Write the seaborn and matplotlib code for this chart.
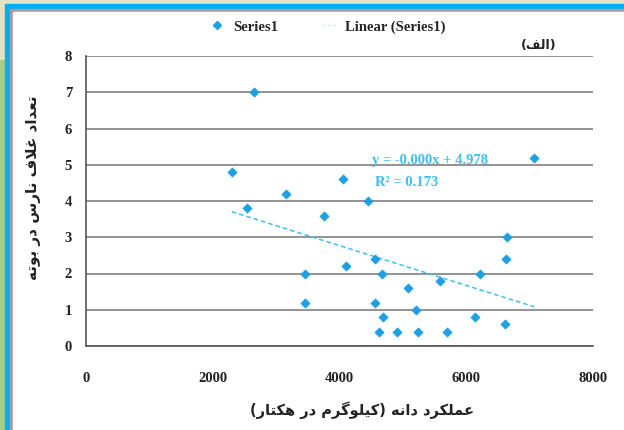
import numpy as np
import pandas as pd
import matplotlib
matplotlib.use("Agg")
import matplotlib.pyplot as plt
from matplotlib.lines import Line2D
from matplotlib.patches import Rectangle
import seaborn as sns

# data
grain_yield = [2300, 2540, 2650, 3150, 3450, 3460, 3750, 4050, 4100, 4450,
               4560, 4560, 4620, 4670, 4690, 4900, 5080, 5200, 5240, 5590,
               5700, 6140, 6220, 6610, 6630, 6640, 7070]
immature_pods = [4.8, 3.8, 7.0, 4.2, 2.0, 1.2, 3.6, 4.6, 2.2, 4.0,
                 2.4, 1.2, 0.4, 2.0, 0.8, 0.4, 1.6, 1.0, 0.4, 1.8,
                 0.4, 0.8, 2.0, 0.6, 2.4, 3.0, 5.2]
x_ticks = [0, 2000, 4000, 6000, 8000]
y_ticks = [0, 1, 2, 3, 4, 5, 6, 7, 8]
eq_text = "y = -0.000x + 4.978"
r2_text = "R² = 0.173"

df = pd.DataFrame({"yield": grain_yield, "pods": immature_pods})

# --- minimal Persian shaping (matplotlib has no complex text layout) ---
FORMS = {  # isolated, final, initial, medial
    "ا": ("\uFE8D", "\uFE8E", None, None),
    "ب": ("\uFE8F", "\uFE90", "\uFE91", "\uFE92"),
    "ت": ("\uFE95", "\uFE96", "\uFE97", "\uFE98"),
    "د": ("\uFEA9", "\uFEAA", None, None),
    "ر": ("\uFEAD", "\uFEAE", None, None),
    "س": ("\uFEB1", "\uFEB2", "\uFEB3", "\uFEB4"),
    "ع": ("\uFEC9", "\uFECA", "\uFECB", "\uFECC"),
    "غ": ("\uFECD", "\uFECE", "\uFECF", "\uFED0"),
    "ف": ("\uFED1", "\uFED2", "\uFED3", "\uFED4"),
    "ل": ("\uFEDD", "\uFEDE", "\uFEDF", "\uFEE0"),
    "م": ("\uFEE1", "\uFEE2", "\uFEE3", "\uFEE4"),
    "ن": ("\uFEE5", "\uFEE6", "\uFEE7", "\uFEE8"),
    "ه": ("\uFEE9", "\uFEEA", "\uFEEB", "\uFEEC"),
    "و": ("\uFEED", "\uFEEE", None, None),
    "ک": ("\uFB8E", "\uFB8F", "\uFB90", "\uFB91"),
    "گ": ("\uFB92", "\uFB93", "\uFB94", "\uFB95"),
    "ی": ("\uFBFC", "\uFBFD", "\uFBFE", "\uFBFF"),
}


def dual(c):
    return c in FORMS and FORMS[c][2] is not None


def shape(s):
    out = []
    i = 0
    while i < len(s):
        c = s[i]
        prev = s[i - 1] if i > 0 else ""
        nxt = s[i + 1] if i + 1 < len(s) else ""
        if c not in FORMS:
            out.append(c)
            i += 1
            continue
        jp = dual(prev)
        if c == "ل" and nxt == "ا":
            out.append("\uFEFC" if jp else "\uFEFB")
            i += 2
            continue
        jn = dual(c) and nxt in FORMS
        f = FORMS[c]
        if jp and jn:
            out.append(f[3])
        elif jp:
            out.append(f[1])
        elif jn:
            out.append(f[2])
        else:
            out.append(f[0])
        i += 1
    vis = "".join(reversed(out))
    return vis.translate(str.maketrans("()", ")("))


x_label = shape("عملکرد دانه (کیلوگرم در هکتار)")
y_label = shape("تعداد غلاف نارس در بوته")
panel_tag = shape("(الف)")

sns.set_style("white")
plt.rcParams["font.family"] = ["Liberation Serif", "DejaVu Sans"]
plt.rcParams["font.weight"] = "bold"

point_color = "#1e9fe3"
trend_color = "#3cc0f0"

fig = plt.figure(figsize=(6.24, 4.30), dpi=100)
# slide-like frame around the chart
fig.patches.append(Rectangle((0, 0), 1, 1, transform=fig.transFigure,
                             color="#e4e2c6", zorder=-5))
fig.patches.append(Rectangle((0, 0), 5 / 624, 1 - 60 / 430, transform=fig.transFigure,
                             color="#a6cc86", zorder=-4))
fig.patches.append(Rectangle((5 / 624, 0), 1, 1 - 4 / 430, transform=fig.transFigure,
                             color="#00b0f0", zorder=-3))
fig.patches.append(Rectangle((10 / 624, 0), 1, 1 - 9 / 430, transform=fig.transFigure,
                             color="#a0a0a0", zorder=-2))
fig.patches.append(Rectangle((13 / 624, 0), 1, 1 - 12 / 430, transform=fig.transFigure,
                             color="white", zorder=-1))

ax = fig.add_axes([86 / 624, 84 / 430, 507 / 624, 290 / 430])
ax.set_facecolor("white")

sns.regplot(data=df, x="yield", y="pods", ax=ax, scatter=False, ci=None,
            line_kws=dict(color=trend_color, lw=1.1, ls=(0, (3, 2))))
sns.scatterplot(data=df, x="yield", y="pods", ax=ax, marker="D", s=22,
                color=point_color, edgecolor=point_color, linewidth=0.5, zorder=5)

ax.set_xlim(0, 8000)
ax.set_ylim(0, 8)
ax.set_xticks(x_ticks)
ax.set_yticks(y_ticks)
ax.yaxis.grid(True, color="#8a8a8a", lw=1.3)
ax.set_axisbelow(True)
for side in ["top", "right"]:
    ax.spines[side].set_visible(False)
for side in ["left", "bottom"]:
    ax.spines[side].set_color("#555555")
    ax.spines[side].set_linewidth(1.2)
ax.tick_params(axis="both", direction="out", length=4, width=1, color="#555555",
               labelsize=10.5, labelcolor="#222222", pad=15)
ax.tick_params(axis="y", pad=6)
for lab in ax.get_xticklabels() + ax.get_yticklabels():
    lab.set_fontweight("bold")

ax.set_xlabel(x_label, family="DejaVu Sans", fontsize=10.5, fontweight="bold",
              color="#222222")
ax.xaxis.set_label_coords(0.545, -0.19)
ax.set_ylabel(y_label, family="DejaVu Sans", fontsize=11, fontweight="bold",
              color="#222222")
ax.yaxis.set_label_coords(-0.089, 0.545)

ax.text(4510, 5.13, eq_text, color=trend_color, fontsize=10.5,
        fontweight="bold", va="center")
ax.text(4560, 4.5, r2_text, color=trend_color, fontsize=10.5,
        fontweight="bold", va="center")
fig.text(556 / 624, 1 - 45 / 430, panel_tag, family="DejaVu Sans",
         fontsize=9, fontweight="bold", ha="right", va="center", color="#222222")

handles = [Line2D([], [], ls="none", marker="D", ms=4, color=point_color),
           Line2D([], [], color=trend_color, lw=1, ls=(0, (2, 2)), alpha=0.25)]
fig.legend(handles, ["Series1", "Linear (Series1)"], loc="center",
           bbox_to_anchor=(328 / 624, 1 - 27 / 430), ncol=2, frameon=False,
           fontsize=10.5, handlelength=1.0, columnspacing=3.0, handletextpad=0.6)

fig.savefig("out.png", dpi=100)
